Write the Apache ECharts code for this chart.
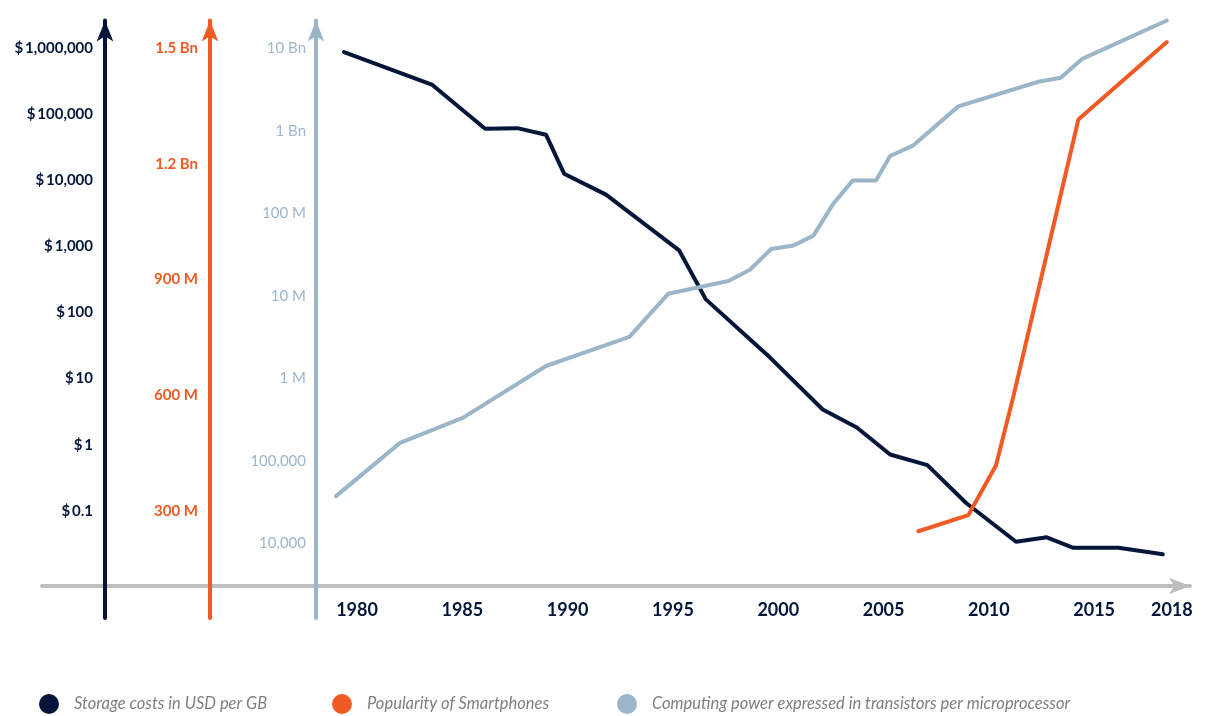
<!DOCTYPE html>
<html>
<head>
<meta charset="utf-8">
<script src="https://cdn.jsdelivr.net/npm/echarts@6/dist/echarts.min.js"></script>
<style>html,body{margin:0;padding:0;background:#fff}#c{width:1206px;height:716px}</style>
</head>
<body>
<div id="c"></div>
<script>
// ---- data ----
const seriesNames = ['Storage costs in USD per GB', 'Popularity of Smartphones', 'Computing power expressed in transistors per microprocessor'];

const storageYears = [1979.38, 1983.55, 1986.08, 1987.61, 1988.97, 1989.83, 1991.82, 1995.29, 1996.56, 1999.61, 2002.11, 2003.73, 2005.31, 2007.08, 2008.92, 2011.29, 2012.75, 2014.01, 2016.15, 2018.26];
const storageCost = [870000, 282000, 60400, 61700, 49100, 12600, 6080, 873, 158, 20.8, 3.41, 1.82, 0.711, 0.491, 0.131, 0.034, 0.0396, 0.0275, 0.0275, 0.0219];

const phoneYears = [2006.65, 2009.03, 2010.34, 2011.16, 2014.25, 2018.45];
const smartphonesM = [247, 289, 418, 596, 1315, 1516];

const computeYears = [1979.0, 1982.04, 1985.02, 1988.97, 1992.93, 1994.78, 1997.63, 1998.66, 1999.66, 2000.72, 2001.67, 2002.62, 2003.54, 2004.64, 2005.31, 2006.39, 2008.55, 2012.35, 2013.41, 2014.41, 2018.45];
const transistors = [37400, 165000, 332000, 1410000, 3170000, 10600000, 15100000, 20700000, 36900000, 40600000, 53500000, 131000000, 250000000, 250000000, 493000000, 658000000, 1970000000, 3920000000, 4390000000, 7360000000, 21600000000];

const yearTicks = [1980, 1985, 1990, 1995, 2000, 2005, 2010, 2015, 2018];
const storageTicks = [0.1, 1, 10, 100, 1000, 10000, 100000, 1000000];
const storageTickLabels = ['$\u20090.1', '$\u20091', '$\u200910', '$\u2009100', '$\u20091,000', '$\u200910,000', '$\u2009100,000', '$\u20091,000,000'];
const phoneTicks = [300, 600, 900, 1200, 1500];
const phoneTickLabels = ['300 M', '600 M', '900 M', '1.2 Bn', '1.5 Bn'];
const transistorTicks = [1e4, 1e5, 1e6, 1e7, 1e8, 1e9, 1e10];
const transistorTickLabels = ['10,000', '100,000', '1 M', '10 M', '100 M', '1 Bn', '10 Bn'];

// ---- styles ----
const NAVY = '#03163a', ORANGE = '#f15a24', BLUE = '#9bb5c9', GREY = '#bdbec0';
const FONT = 'Lato';

function logLabel(ticks, labels) {
  return function (v) {
    for (let i = 0; i < ticks.length; i++) {
      if (Math.abs(Math.log10(ticks[i]) - v) < 1e-6) return labels[i];
    }
    return '';
  };
}
function linLabel(ticks, labels) {
  return function (v) {
    const i = ticks.indexOf(v);
    return i >= 0 ? labels[i] : '';
  };
}
function yAxisCfg(color, offset, min, max, values, formatter, labelColor, weight, margin) {
  return {
    type: 'value', position: 'left', offset: offset, min: min, max: max, z: 5,
    axisLine: { show: true, onZero: false, symbol: ['none', 'arrow'], symbolSize: [12.5, 21],
      lineStyle: { color: color, width: 4, cap: 'round' } },
    axisTick: { show: false }, splitLine: { show: false },
    axisLabel: { customValues: values, formatter: formatter, margin: margin,
      color: labelColor, fontFamily: FONT, fontSize: 15, fontWeight: weight }
  };
}

const chart = echarts.init(document.getElementById('c'), null, { renderer: 'canvas' });
const labelFont = { fontFamily: FONT, fontSize: 18, fontWeight: 'bold', color: NAVY };

const legendBase = {
  orient: 'horizontal', top: 694, padding: 0, itemWidth: 20, itemHeight: 20, icon: 'circle',
  textStyle: { fontFamily: FONT, fontStyle: 'italic', fontSize: 16.5, color: '#7f7f7f', padding: [0, 0, 0, 10] }
};

chart.setOption({
  animation: false,
  backgroundColor: '#fff',
  grid: { left: 42, right: 16, top: 20.5, bottom: 98, containLabel: false },
  legend: [
    Object.assign({}, legendBase, { left: 39, data: [seriesNames[0]] }),
    Object.assign({}, legendBase, { left: 332, data: [seriesNames[1]] }),
    Object.assign({}, legendBase, { left: 617, data: [seriesNames[2]] })
  ],
  xAxis: {
    type: 'value', min: 1965.04, max: 2019.55, offset: -32, z: 1,
    axisLine: { show: true, onZero: false, symbol: ['none', 'arrow'], symbolSize: [12.5, 21],
      lineStyle: { color: GREY, width: 4, cap: 'round' } },
    axisTick: { show: false }, splitLine: { show: false },
    axisLabel: Object.assign({
      customValues: yearTicks, margin: 15,
      formatter: function (v) { return v === 2018 ? '{last|' + v + '}' : String(v); },
      rich: { last: Object.assign({ padding: [0, 0, 0, 29] }, labelFont) }
    }, labelFont)
  },
  yAxis: [
    yAxisCfg(NAVY, -63, -2.623, 6.419, storageTicks.map(Math.log10), logLabel(storageTicks, storageTickLabels), NAVY, 'bold', 12),
    yAxisCfg(ORANGE, -168, 21.9, 1571.8, phoneTicks, linLabel(phoneTicks, phoneTickLabels), ORANGE, 'bold', 12),
    yAxisCfg(BLUE, -274, 3.096, 10.335, transistorTicks.map(Math.log10), logLabel(transistorTicks, transistorTickLabels), '#9fb7c9', 'normal', 10)
  ],
  series: [
    { name: seriesNames[0], type: 'line', yAxisIndex: 0, showSymbol: false, clip: false, color: NAVY,
      lineStyle: { width: 4, color: NAVY, cap: 'round' },
      data: storageYears.map((y, i) => [y, Math.log10(storageCost[i])]) },
    { name: seriesNames[1], type: 'line', yAxisIndex: 1, showSymbol: false, clip: false, color: ORANGE,
      lineStyle: { width: 4, color: ORANGE, cap: 'round' },
      data: phoneYears.map((y, i) => [y, smartphonesM[i]]) },
    { name: seriesNames[2], type: 'line', yAxisIndex: 2, showSymbol: false, clip: false, color: BLUE,
      lineStyle: { width: 4, color: BLUE, cap: 'round' },
      data: computeYears.map((y, i) => [y, Math.log10(transistors[i])]) }
  ]
});
</script>
</body>
</html>
